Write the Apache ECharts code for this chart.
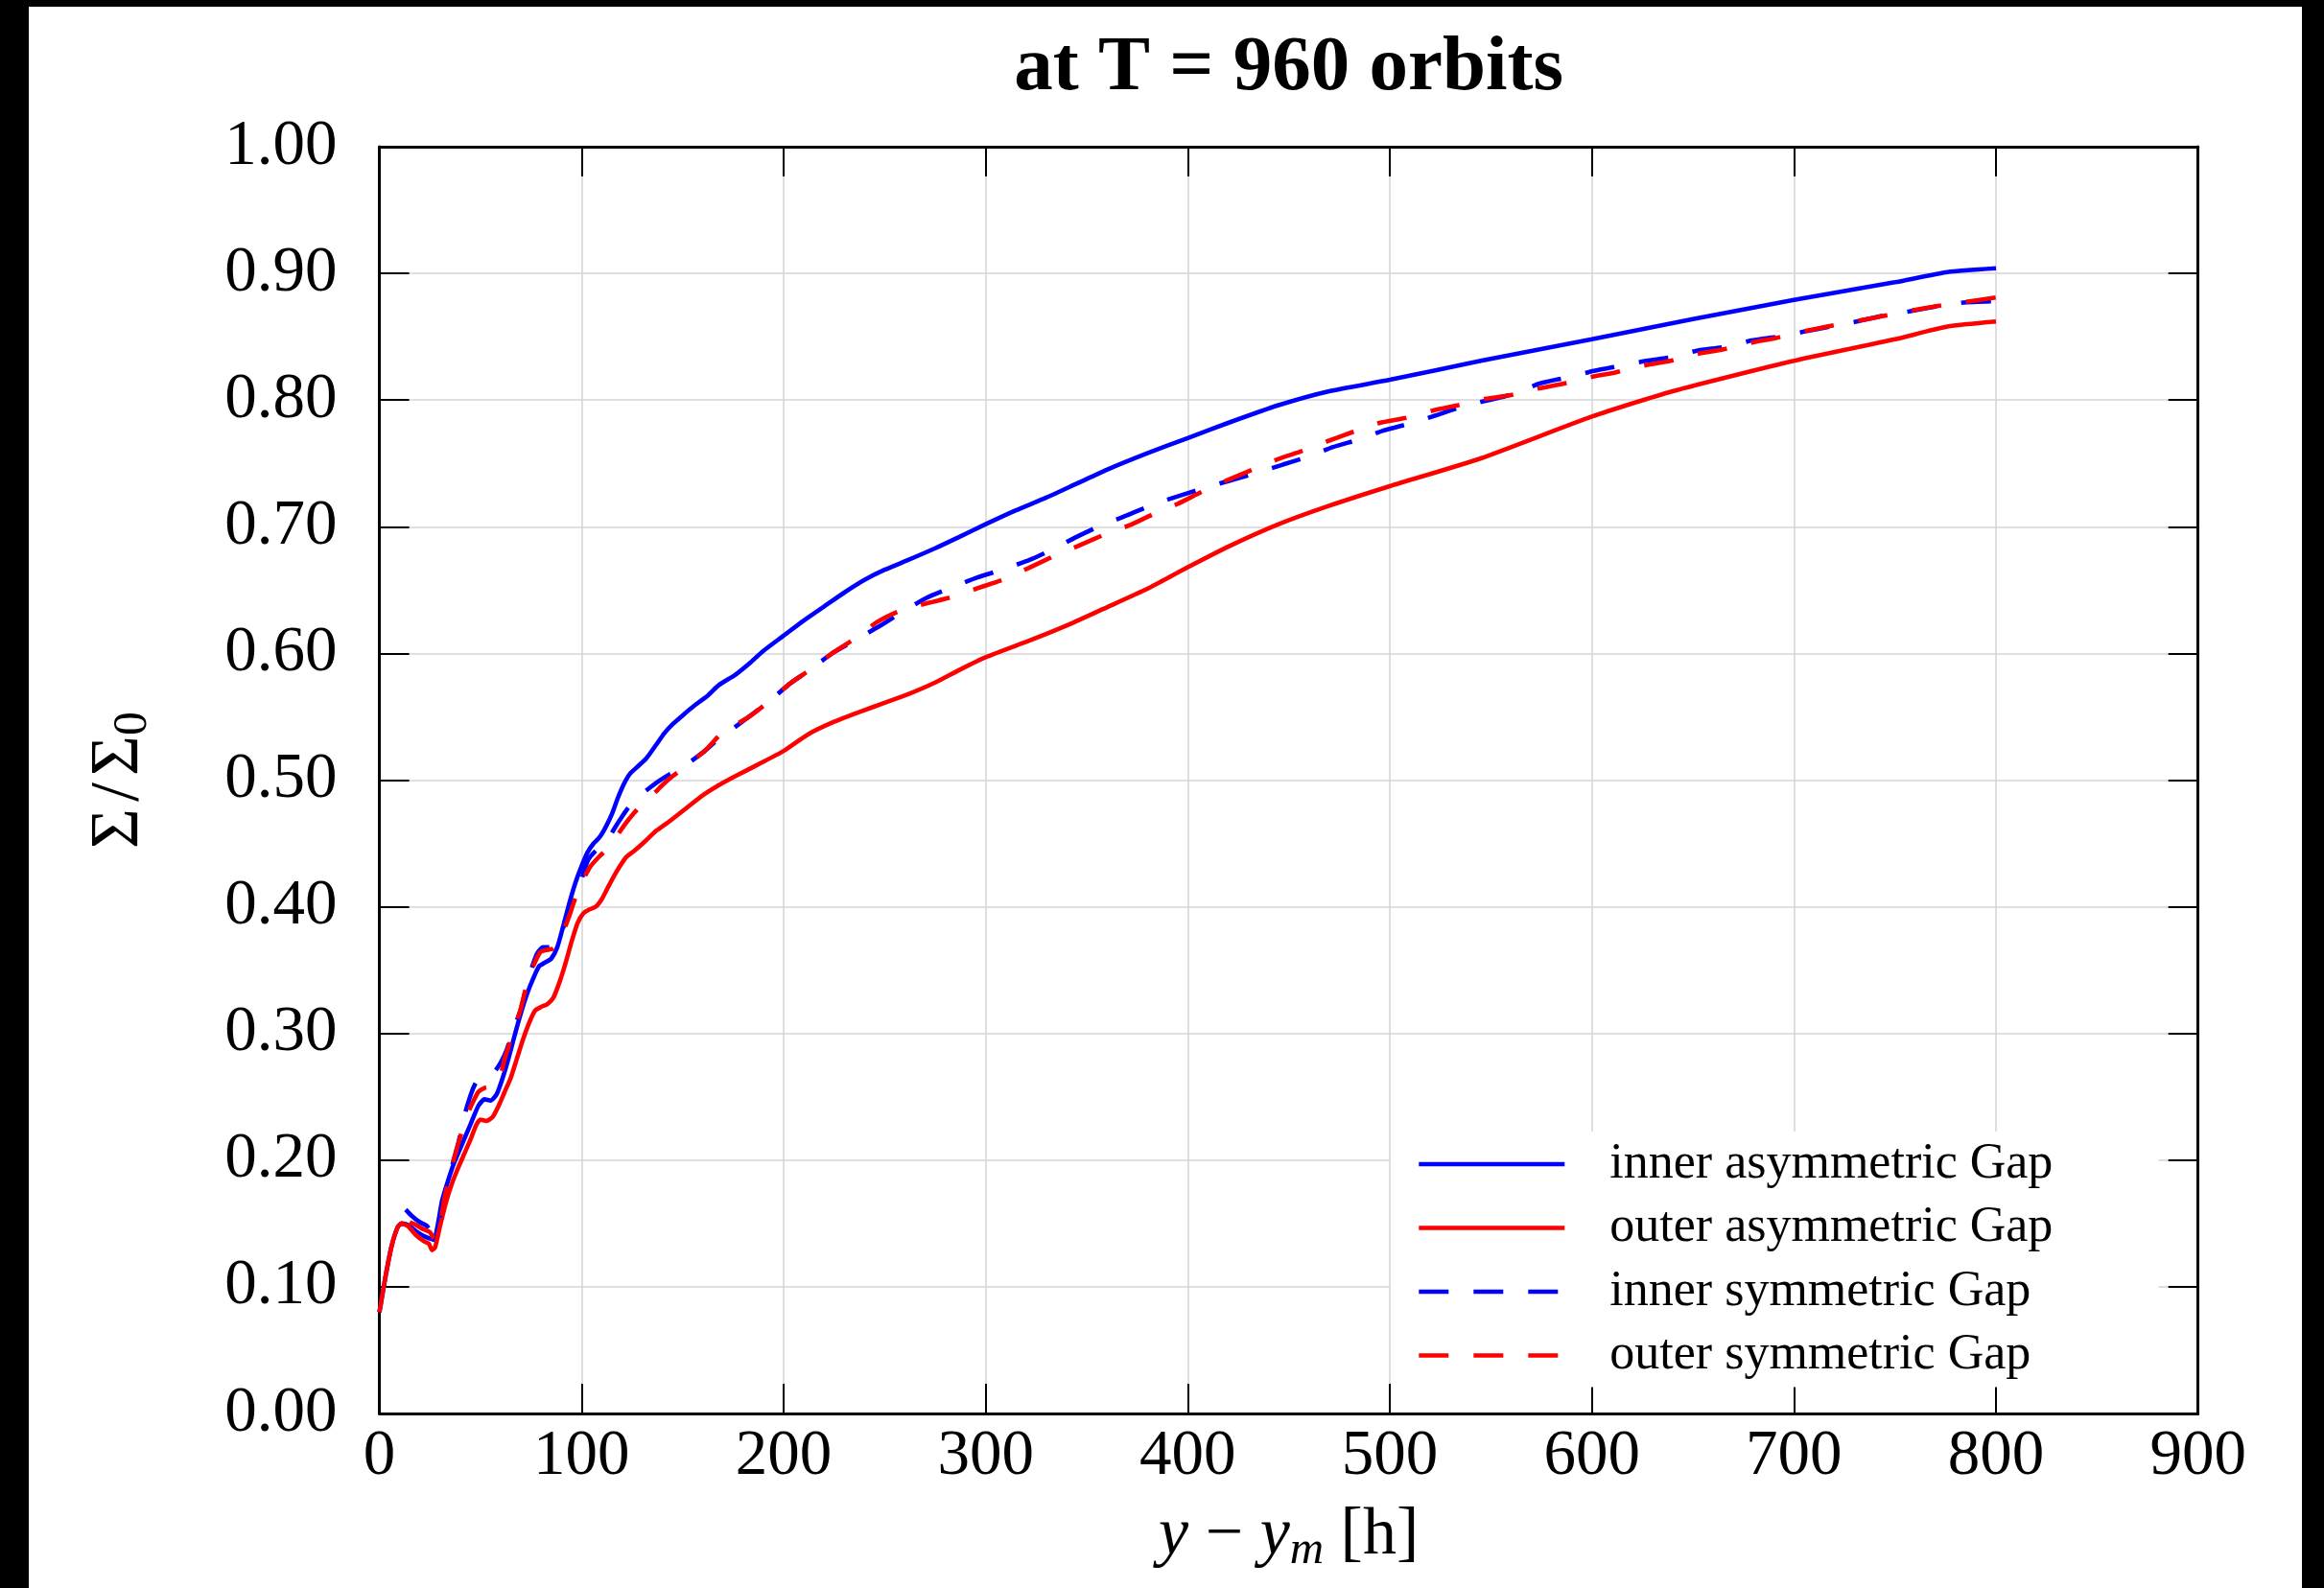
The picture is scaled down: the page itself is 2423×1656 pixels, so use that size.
<!DOCTYPE html>
<html><head><meta charset="utf-8">
<script src="https://cdn.jsdelivr.net/npm/echarts@6/dist/echarts.min.js"></script>
<style>
html,body{margin:0;padding:0;background:#000;width:2423px;height:1656px;overflow:hidden}
#c{position:absolute;left:30px;top:7px;width:2370px;height:1649px;background:#fff}
</style></head><body><div id="c"></div>
<script>
const xTickLabels = ['0','100','200','300','400','500','600','700','800','900'];
const yTickLabels = ['0.00','0.10','0.20','0.30','0.40','0.50','0.60','0.70','0.80','0.90','1.00'];
const seriesNames = ['inner asymmetric Gap','outer asymmetric Gap','inner symmetric Gap','outer symmetric Gap'];

const innerAsymX = [0,3,6,9,11,14,18,22,25,27,29,31,34,37,41,45,49,52,55,58,61,64,67,70,73,76,79,82,85,88,91,94,97,100,103,106,109,112,115,118,121,124,128,132,137,141,145,150,156,162,168,176,183,190,200,210,220,230,240,250,262,275,287,300,315,330,345,360,380,400,420,445,470,500,545,600,650,700,750,776,800];
const innerAsymY = [0.080,0.108,0.132,0.147,0.150,0.149,0.144,0.140,0.138,0.137,0.150,0.168,0.184,0.198,0.213,0.228,0.243,0.248,0.247,0.252,0.265,0.281,0.299,0.316,0.331,0.343,0.353,0.356,0.359,0.368,0.385,0.403,0.419,0.432,0.443,0.450,0.455,0.463,0.473,0.486,0.497,0.505,0.511,0.517,0.528,0.537,0.544,0.551,0.559,0.566,0.575,0.583,0.592,0.602,0.614,0.626,0.637,0.648,0.658,0.666,0.674,0.683,0.692,0.702,0.713,0.723,0.734,0.745,0.758,0.770,0.782,0.796,0.807,0.816,0.831,0.848,0.864,0.879,0.893,0.901,0.904];

const outerAsymX = [0,3,6,9,11,14,18,22,24.5,26,27.5,30,33,36,39,42,45,48,50,53,56,59,62,65,68,71,74,77,80,83,86,89,92,95,98,101,104,107,110,113,116,119,122,126,131,137,144,152,160,168,176,187,200,212,225,238,250,262,275,287,300,323,340,358,380,400,421,445,469,500,545,600,640,700,750,776,800];
const outerAsymY = [0.080,0.108,0.132,0.147,0.150,0.148,0.141,0.136,0.134,0.129,0.131,0.148,0.167,0.182,0.194,0.205,0.216,0.228,0.232,0.231,0.234,0.243,0.254,0.265,0.280,0.295,0.308,0.318,0.321,0.323,0.328,0.340,0.355,0.372,0.387,0.395,0.398,0.400,0.406,0.415,0.424,0.432,0.439,0.444,0.451,0.460,0.468,0.478,0.488,0.496,0.503,0.512,0.523,0.536,0.546,0.554,0.561,0.568,0.577,0.587,0.597,0.611,0.622,0.635,0.651,0.668,0.685,0.702,0.716,0.732,0.754,0.787,0.807,0.831,0.848,0.858,0.862];

const innerSymX = [13,16,20,23.5,26,28,30,32,35,39,42,45.5,48,51,54,57,60,63,66,70,74,78,81,85,89,94,98.5,103,107,112,116,120,124,128,133,138,144,150,156,161,166,171,182,192,203,213,224,236,248,259,271,283,296,308,322,333,345,357,370,382,395,407,420,433,447,459,472,485,497,511,523,536,549,562,574,588,601,614,627,640,652,666,679,692,705,718,731,745,757,771,784,800];
const innerSymY = [0.161,0.156,0.151,0.148,0.143,0.143,0.155,0.171,0.190,0.213,0.235,0.253,0.262,0.266,0.268,0.270,0.277,0.287,0.302,0.319,0.345,0.363,0.368,0.368,0.376,0.397,0.414,0.436,0.444,0.450,0.461,0.471,0.480,0.487,0.493,0.499,0.505,0.510,0.517,0.523,0.530,0.536,0.549,0.561,0.576,0.587,0.600,0.611,0.622,0.633,0.644,0.652,0.660,0.666,0.674,0.682,0.692,0.701,0.709,0.717,0.724,0.730,0.736,0.742,0.749,0.755,0.763,0.769,0.776,0.782,0.788,0.795,0.800,0.805,0.813,0.818,0.823,0.827,0.831,0.834,0.839,0.842,0.847,0.850,0.854,0.858,0.862,0.867,0.870,0.874,0.877,0.878];

const outerSymX = [15,18,21,25,27,30,32,35,39,43,46,49,52,55,59,62,66,70,74,79.5,83,86,89,94,98.5,104.5,109,113.5,121.5,126,130,135,140,145,150,161,170,182,192,203,213,224,235.5,246.5,258,272,284.5,297,310,322,334,346,359,371,383,395,407.5,420,432,444,457,470,482,495,508,522,534,547.5,560,573,586,599,612,625,639,651,665,678,691,704,716.5,730,743,756,770,783,800];
const outerSymY = [0.151,0.149,0.146,0.143,0.138,0.150,0.168,0.190,0.213,0.234,0.245,0.254,0.257,0.258,0.262,0.280,0.300,0.320,0.345,0.364,0.366,0.367,0.373,0.393,0.414,0.432,0.440,0.447,0.465,0.474,0.481,0.488,0.496,0.503,0.509,0.523,0.538,0.549,0.561,0.576,0.587,0.600,0.612,0.625,0.634,0.640,0.645,0.652,0.659,0.668,0.677,0.685,0.694,0.701,0.710,0.718,0.728,0.737,0.745,0.753,0.760,0.768,0.775,0.782,0.786,0.792,0.796,0.801,0.804,0.809,0.813,0.818,0.822,0.827,0.831,0.836,0.840,0.845,0.849,0.854,0.858,0.862,0.866,0.870,0.874,0.877,0.881];

const zip = (xs, ys) => xs.map((x, i) => [x, ys[i]]);
const FONT = '"Liberation Serif", "DejaVu Serif", serif';
const DASH = [31, 26];
const LW = 4.6;

const frameAxis = {
  axisLine: { show: true, onZero: false, lineStyle: { color: '#000', width: 3 } },
  axisTick: { show: true, inside: true, length: 31, lineStyle: { color: '#000', width: 2 } }
};

const chart = echarts.init(document.getElementById('c'), null, { renderer: 'canvas' });
chart.setOption({
  animation: false,
  backgroundColor: '#fff',
  title: {
    text: 'at T = 960 orbits',
    left: 1313.6, top: 25, textAlign: 'center', padding: 0,
    textStyle: { fontFamily: FONT, fontWeight: 'bold', fontSize: 81, color: '#000', lineHeight: 81 }
  },
  grid: { left: 365.6, right: 108.3, top: 146, bottom: 182, containLabel: false, outerBoundsMode: 'none' },
  legend: {
    orient: 'vertical', left: 1420, top: 1173,
    backgroundColor: '#fff',
    padding: [8, 110, 7, 27],
    itemWidth: 152, itemHeight: 20, itemGap: 14.5,
    itemStyle: { opacity: 0 },
    lineStyle: { width: LW },
    textStyle: { fontFamily: FONT, fontSize: 52, lineHeight: 52, color: '#000', padding: [0, 0, 0, 42] },
    data: seriesNames
  },
  xAxis: [
    Object.assign({
      type: 'value', min: 0, max: 900, interval: 100, position: 'bottom',
      axisLabel: { margin: 12, fontSize: 67, fontFamily: FONT, color: '#000',
        formatter: v => xTickLabels[Math.round(v / 100)] },
      splitLine: { show: true, lineStyle: { color: '#d4d4d4', width: 1.5 } },
      name: '{i|y}{op| − }{i|y}{sub|m}{r| [h]}',
      nameLocation: 'middle', nameGap: 88,
      nameTextStyle: { fontFamily: FONT, fontSize: 70, color: '#000', lineHeight: 80,
        rich: {
          i: { fontFamily: FONT, fontStyle: 'italic', fontSize: 70, lineHeight: 80 },
          op: { fontFamily: FONT, fontSize: 70, lineHeight: 80 },
          r: { fontFamily: FONT, fontSize: 70, lineHeight: 80 },
          sub: { fontFamily: FONT, fontStyle: 'italic', fontSize: 49, lineHeight: 44, verticalAlign: 'bottom' }
        } }
    }, frameAxis),
    Object.assign({
      type: 'value', min: 0, max: 900, interval: 100, position: 'top',
      axisLabel: { show: false }, splitLine: { show: false }
    }, frameAxis)
  ],
  yAxis: [
    Object.assign({
      type: 'value', min: 0, max: 1, interval: 0.1, position: 'left',
      axisLabel: { margin: 44, fontSize: 67, fontFamily: FONT, color: '#000',
        formatter: v => yTickLabels[Math.round(v * 10)] },
      splitLine: { show: true, lineStyle: { color: '#d4d4d4', width: 1.5 } },
      name: '{m|Σ}{s|/}{m|Σ}{sub|0}',
      nameLocation: 'middle', nameGap: 232, nameRotate: 90,
      nameTextStyle: { fontFamily: FONT, fontSize: 72, color: '#000', lineHeight: 80,
        rich: {
          m: { fontFamily: FONT, fontSize: 72, lineHeight: 80 },
          s: { fontFamily: FONT, fontSize: 72, lineHeight: 80, padding: [0, 7, 0, 7] },
          sub: { fontFamily: FONT, fontSize: 50, lineHeight: 44, verticalAlign: 'bottom' }
        } }
    }, frameAxis),
    Object.assign({
      type: 'value', min: 0, max: 1, interval: 0.1, position: 'right',
      axisLabel: { show: false }, splitLine: { show: false }
    }, frameAxis)
  ],
  series: [
    { name: seriesNames[0], type: 'line', data: zip(innerAsymX, innerAsymY), symbol: 'none', smooth: 0.2,
      lineStyle: { color: '#0000ff', width: LW }, itemStyle: { color: '#0000ff' } },
    { name: seriesNames[1], type: 'line', data: zip(outerAsymX, outerAsymY), symbol: 'none', smooth: 0.2,
      lineStyle: { color: '#ff0000', width: LW }, itemStyle: { color: '#ff0000' } },
    { name: seriesNames[2], type: 'line', data: zip(innerSymX, innerSymY), symbol: 'none', smooth: 0.2,
      lineStyle: { color: '#0000ff', width: LW, type: DASH }, itemStyle: { color: '#0000ff' } },
    { name: seriesNames[3], type: 'line', data: zip(outerSymX, outerSymY), symbol: 'none', smooth: 0.2,
      lineStyle: { color: '#ff0000', width: LW, type: DASH }, itemStyle: { color: '#ff0000' } }
  ]
});
</script></body></html>
